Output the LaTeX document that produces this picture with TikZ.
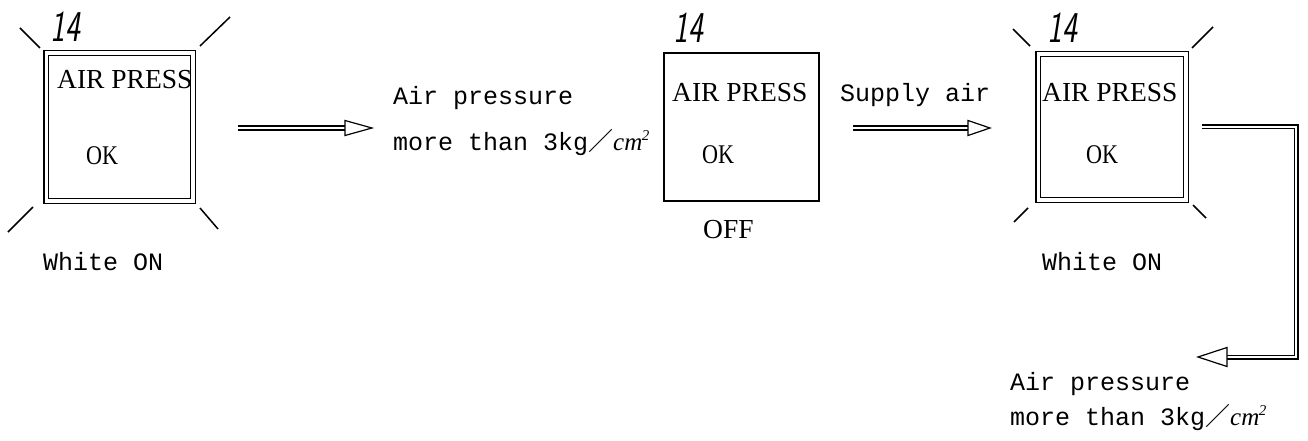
\documentclass[tikz,border=0pt]{standalone}
\usepackage{fontspec}
\setmainfont{Liberation Serif}
\setmonofont{Liberation Mono}
\newfontfamily\cjk{Noto Sans CJK JP}
\newcommand\cmsq{{\rmfamily\itshape cm}\kern-0.5pt\raisebox{10pt}{\rmfamily\itshape\fontsize{15}{15}\selectfont 2}}
\begin{document}
\begin{tikzpicture}[x=1pt,y=-1pt,line join=miter,
  dblbox/.style={draw,double,double distance=3.5pt,line width=1.4pt,inner sep=0pt},
  sglbox/.style={draw,line width=1.6pt,inner sep=0pt},
  lbl/.style={anchor=base west,inner sep=0pt,font=\fontsize{27.5}{30}\selectfont},
  oklbl/.style={anchor=base west,inner sep=0pt,font=\fontsize{27}{30}\selectfont,xscale=0.82,transform shape},
  mono/.style={anchor=base west,inner sep=0pt,font=\ttfamily\fontsize{25}{30}\selectfont},
  num/.style={anchor=base west,inner sep=0pt,font=\sffamily\slshape\fontsize{44}{44}\selectfont,xscale=0.72,transform shape},
  ray/.style={line width=1.5pt},
  shaft/.style={double,double distance=2.6pt,line width=1.2pt},
  head/.style={draw,fill=white,line width=1.2pt}]
\useasboundingbox (0,0) rectangle (1308,441);

% ---- box 1 (lit) ----
\node[dblbox,minimum width=146.5pt,minimum height=147.5pt] (b1) at (119.5,127) {};
\node[num] (n1) at (50,42) {14};
\node[lbl] (t1a) at (57,89) {AIR PRESS};
\node[oklbl] (t1b) at (86,164) {OK};
\node[mono] (s1) at (43,270) {White ON};
\draw[ray] (20,28) -- (40,48);
\draw[ray] (200,46) -- (230,17);
\draw[ray] (33,207) -- (8,232);
\draw[ray] (200,208) -- (218,229);

% ---- arrow 1 ----
\coordinate (a1s) at (238,128);
\coordinate (a1t) at (372,128);
\draw[shaft] (a1s) -- ([xshift=-20pt]a1t);
\draw[head] (a1t) -- ++(-27,-7.5) -- ++(0,15) -- cycle;

\node[mono] (c1a) at (393,105) {Air pressure};
\node[mono] (c1b) at (393,150) {more than 3kg{\cjk ／}\cmsq};

% ---- box 2 (off) ----
\node[sglbox,minimum width=155.5pt,minimum height=148.5pt] (b2) at (741.5,127) {};
\node[num] (n2) at (673,43) {14};
\node[lbl] (t2a) at (672,102) {AIR PRESS};
\node[oklbl] (t2b) at (702,163) {OK};
\node[lbl] (s2) at (703,238) {OFF};

% ---- arrow 2 ----
\node[mono] (c2) at (840,102) {Supply air};
\coordinate (a2s) at (853,128);
\coordinate (a2t) at (990,128);
\draw[shaft] (a2s) -- ([xshift=-15pt]a2t);
\draw[head] (a2t) -- ++(-22,-7.5) -- ++(0,15) -- cycle;

% ---- box 3 (lit) ----
\node[dblbox,minimum width=147.5pt,minimum height=145.5pt] (b3) at (1112,127) {};
\node[num] (n3) at (1047,43) {14};
\node[lbl] (t3a) at (1042,102) {AIR PRESS};
\node[oklbl] (t3b) at (1086,163) {OK};
\node[mono] (s3) at (1042,270) {White ON};
\draw[ray] (1013,29) -- (1030,46);
\draw[ray] (1192,48) -- (1213,27);
\draw[ray] (1028,208) -- (1014,222);
\draw[ray] (1193,205) -- (1206,218);

% ---- arrow 3 (bent) ----
\coordinate (a3s) at (1202,127);
\coordinate (a3c) at (1296,127);
\coordinate (a3t) at (1198,357);
\draw[shaft] (a3s) -- (a3c) |- ([xshift=22pt]a3t);
\draw[head] (a3t) -- ++(29,-9.5) -- ++(0,19) -- cycle;

\node[mono] (c3a) at (1010,390) {Air pressure};
\node[mono] (c3b) at (1010,425) {more than 3kg{\cjk ／}\cmsq};
\end{tikzpicture}
\end{document}
